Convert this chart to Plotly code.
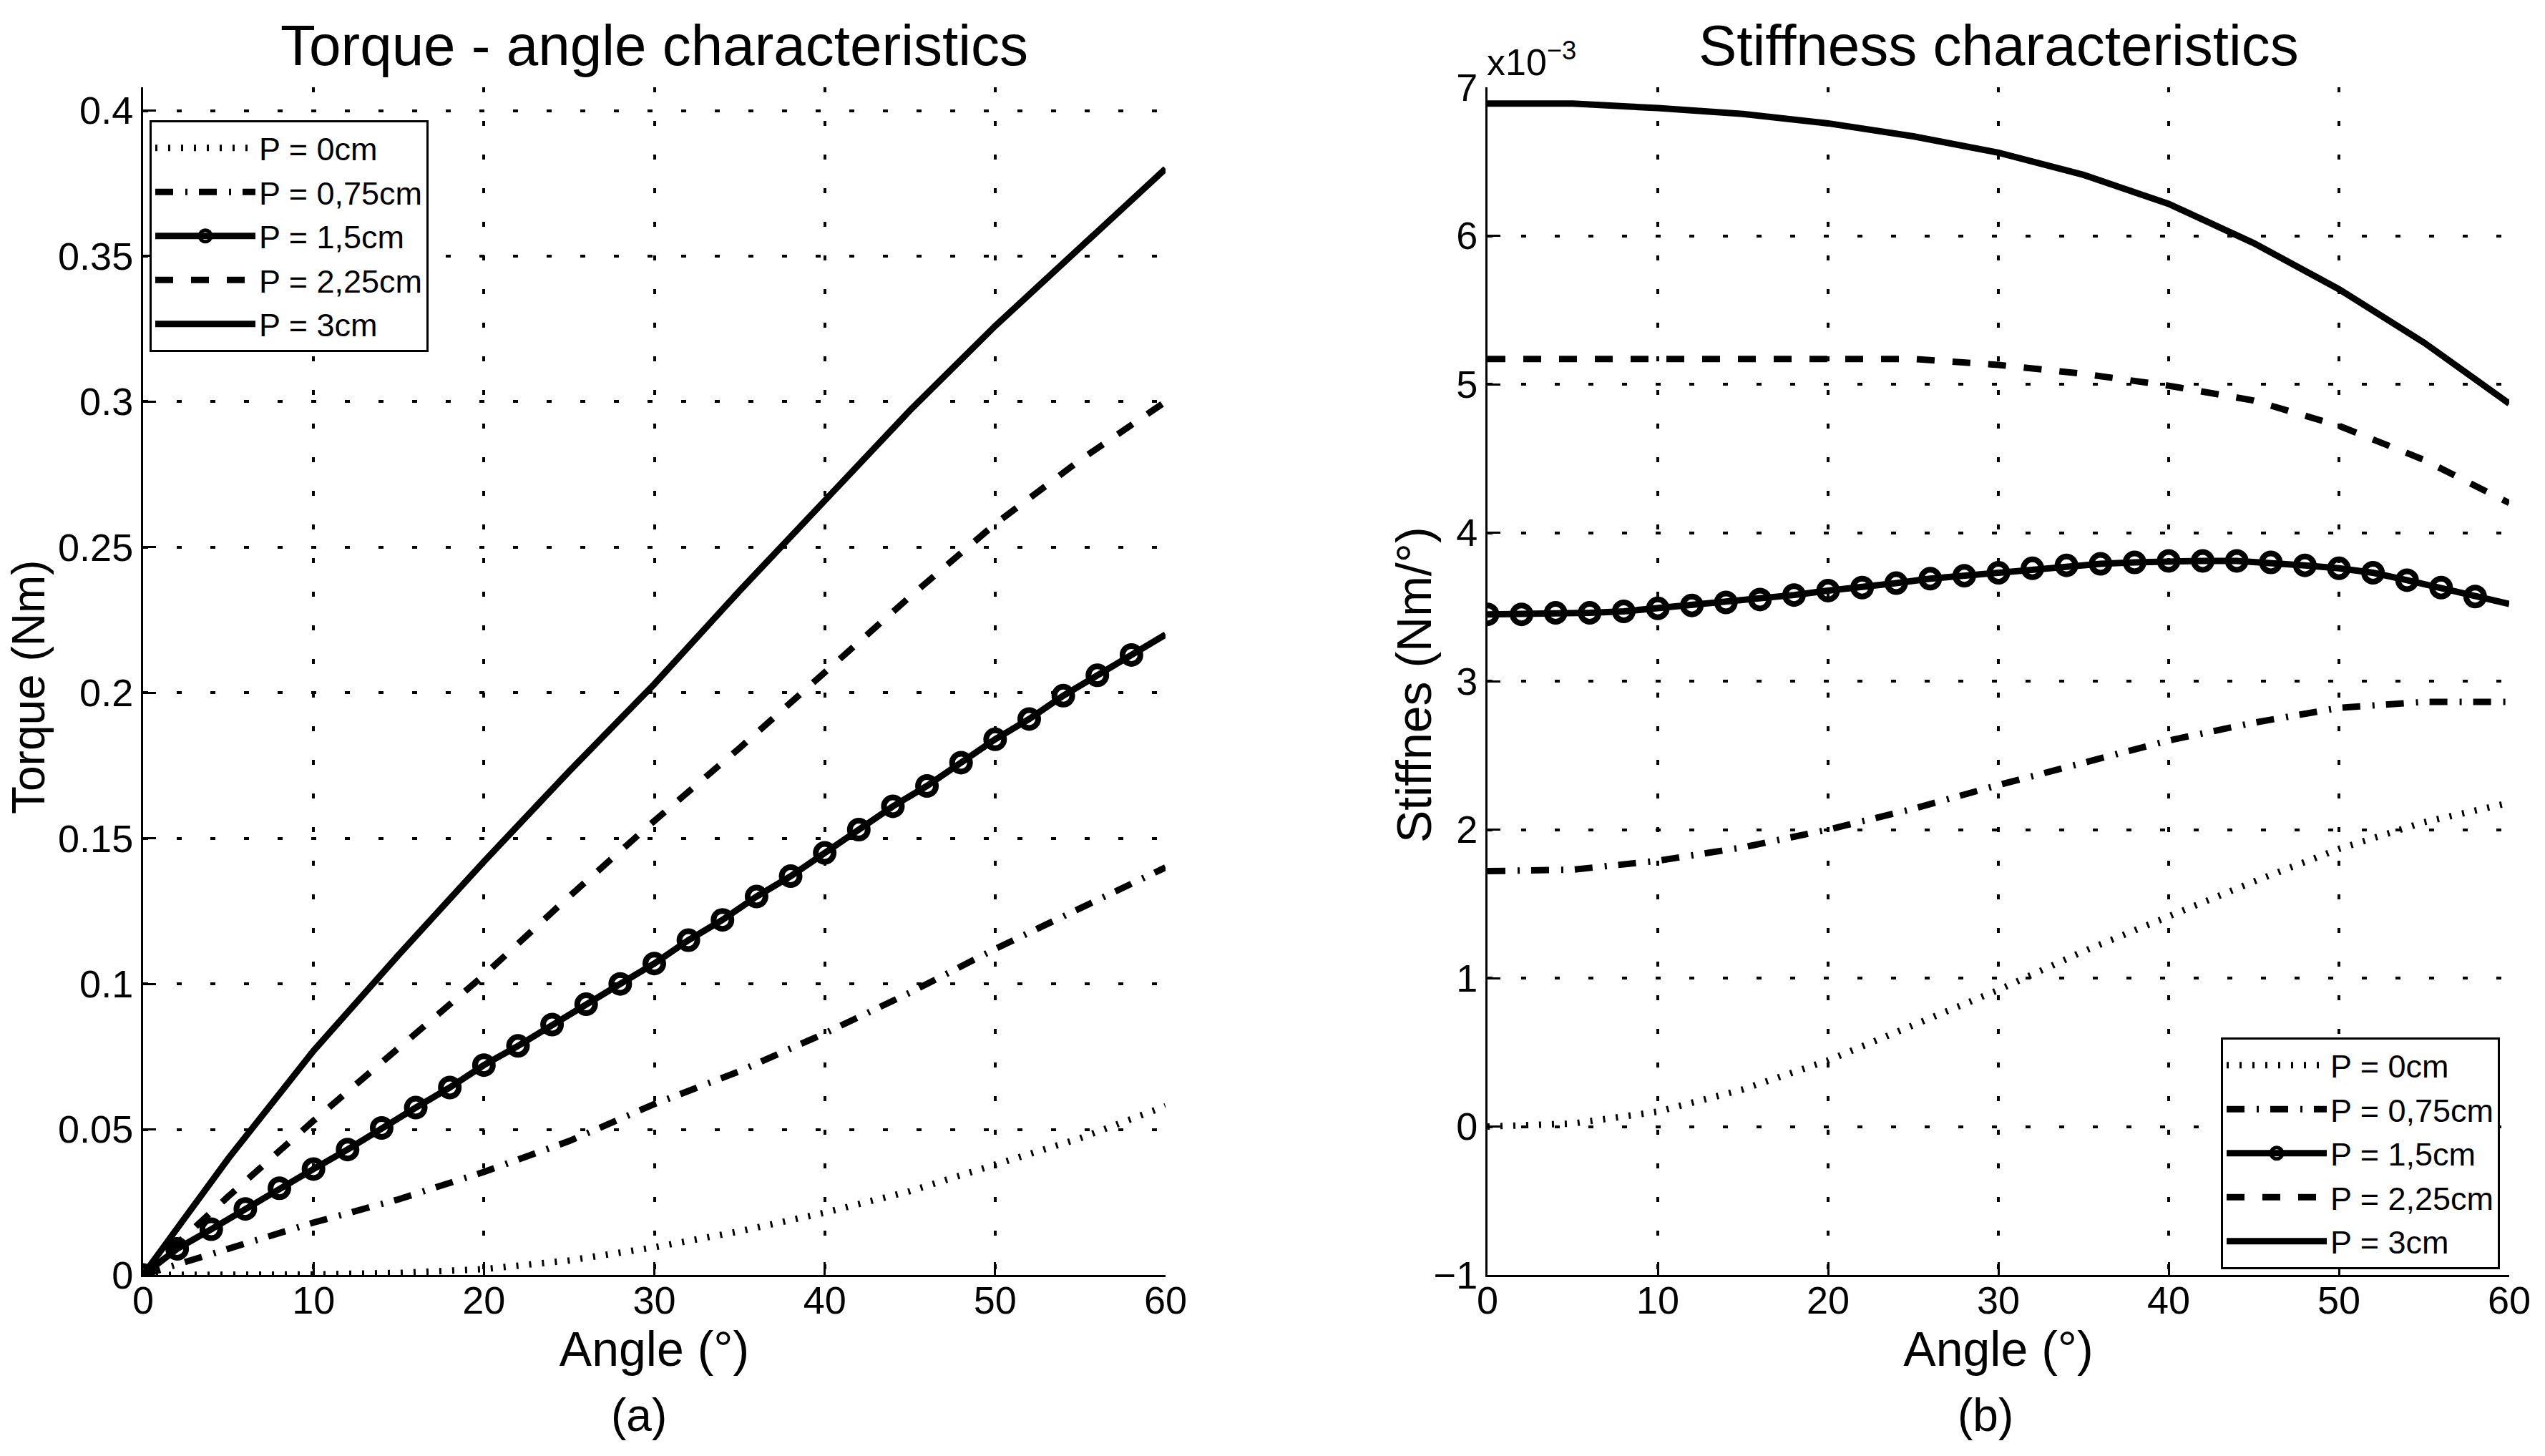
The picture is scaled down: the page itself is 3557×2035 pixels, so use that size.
import plotly.graph_objects as go

# ---------------- data ----------------
angle_coarse = [0, 5, 10, 15, 20, 25, 30, 35, 40, 45, 50, 55, 60]
angle_step2 = [0, 2, 4, 6, 8, 10, 12, 14, 16, 18, 20, 22, 24, 26, 28, 30,
               32, 34, 36, 38, 40, 42, 44, 46, 48, 50, 52, 54, 56, 58, 60]

# Torque (Nm)
torque_P0 = [0, 0.0, 0.0002, 0.0007, 0.002, 0.005, 0.0095, 0.015, 0.0214, 0.0288, 0.0378, 0.047, 0.058]
torque_P075 = [0, 0.009, 0.018, 0.026, 0.0354, 0.046, 0.0587, 0.07, 0.083, 0.097, 0.112, 0.126, 0.14]
torque_P15 = [0, 0.009, 0.0157, 0.0227, 0.0298, 0.0364, 0.0431, 0.0505, 0.0575, 0.0644, 0.0721,
              0.0787, 0.086, 0.093, 0.1, 0.107, 0.115, 0.122, 0.13, 0.137, 0.145, 0.153, 0.161,
              0.168, 0.176, 0.184, 0.191, 0.199, 0.206, 0.213, 0.22]
torque_P225 = [0, 0.027, 0.053, 0.078, 0.103, 0.13, 0.156, 0.181, 0.207, 0.233, 0.258, 0.28, 0.30]
torque_P3 = [0, 0.04, 0.077, 0.11, 0.142, 0.173, 0.203, 0.235, 0.266, 0.297, 0.326, 0.353, 0.38]

# Stiffness (x10^-3 Nm/deg)
stiff_P0 = [0, 0.02, 0.1, 0.25, 0.445, 0.68, 0.92, 1.18, 1.42, 1.65, 1.87, 2.05, 2.18]
stiff_P075 = [1.72, 1.73, 1.79, 1.88, 2.0, 2.14, 2.3, 2.45, 2.6, 2.72, 2.82, 2.86, 2.86]
stiff_P15 = [3.45, 3.45, 3.46, 3.46, 3.47, 3.49, 3.51, 3.53, 3.55, 3.58, 3.61, 3.63, 3.66, 3.69,
             3.71, 3.73, 3.76, 3.78, 3.79, 3.80, 3.81, 3.81, 3.81, 3.80, 3.78, 3.76, 3.73, 3.68,
             3.63, 3.57, 3.52]
stiff_P225 = [5.17, 5.17, 5.17, 5.17, 5.17, 5.17, 5.13, 5.07, 4.99, 4.89, 4.72, 4.49, 4.2]
stiff_P3 = [6.89, 6.89, 6.86, 6.82, 6.757, 6.67, 6.56, 6.41, 6.215, 5.95, 5.64, 5.28, 4.87]

names = ["P = 0cm", "P = 0,75cm", "P = 1,5cm", "P = 2,25cm", "P = 3cm"]
x_ticks = [0, 10, 20, 30, 40, 50, 60]
torque_ticks = [0, 0.05, 0.1, 0.15, 0.2, 0.25, 0.3, 0.35, 0.4]
torque_ticktext = ["0", "0.05", "0.1", "0.15", "0.2", "0.25", "0.3", "0.35", "0.4"]
stiff_ticks = [-1, 0, 1, 2, 3, 4, 5, 6, 7]

# ---------------- styling ----------------
W, H = 3557, 2035
FONT = "Liberation Sans, Arial, sans-serif"
LW = 9
styles = [
    dict(dash="3px,15px", width=LW),
    dict(dash="25px,17px,3px,16px", width=LW),
    dict(dash="solid", width=LW),
    dict(dash="25px,25px", width=LW),
    dict(dash="solid", width=LW),
]

fig = go.Figure()

def add_set(xc, series, xaxis, yaxis, legend):
    for i, (nm, ys) in enumerate(zip(names, series)):
        st = styles[i]
        if i == 2:
            n = len(angle_step2)
            fig.add_trace(go.Scatter(
                x=angle_step2, y=ys, name=nm, mode="lines+markers",
                line=dict(color="black", width=st["width"]),
                marker=dict(symbol="circle-open", size=25,
                            color=["black"] * (n - 1) + ["rgba(0,0,0,0)"],
                            line=dict(width=8)),
                xaxis=xaxis, yaxis=yaxis, legend=legend))
        else:
            fig.add_trace(go.Scatter(
                x=xc, y=ys, name=nm, mode="lines",
                line=dict(color="black", width=st["width"], dash=st["dash"]),
                xaxis=xaxis, yaxis=yaxis, legend=legend))

add_set(angle_coarse, [torque_P0, torque_P075, torque_P15, torque_P225, torque_P3], "x", "y", "legend")
add_set(angle_coarse, [stiff_P0, stiff_P075, stiff_P15, stiff_P225, stiff_P3], "x2", "y2", "legend2")

x_l = [200 / W, 1629 / W]
x_r = [2079 / W, 3507 / W]
y_d = [(H - 1782) / H, (H - 122) / H]

axis_common = dict(
    automargin=False,
    showline=True, linecolor="black", linewidth=3, mirror=False,
    ticks="inside", ticklen=18, tickwidth=3, tickcolor="black",
    showgrid=True, gridcolor="black", gridwidth=4, griddash="7px,40px",
    zeroline=False, tickfont=dict(family=FONT, size=54, color="black"),
    title_font=dict(family=FONT, size=68, color="black"),
)

leg_common = dict(bgcolor="white", bordercolor="black", borderwidth=3,
                  font=dict(family=FONT, size=45, color="black"),
                  itemwidth=140, tracegroupgap=0)

fig.update_layout(
    width=W, height=H, autosize=False,
    margin=dict(l=0, r=0, t=0, b=0, pad=0),
    paper_bgcolor="white", plot_bgcolor="white",
    font=dict(family=FONT, color="black"),
    xaxis=dict(domain=x_l, range=[0, 60], tickvals=x_ticks, anchor="y", ticklabelstandoff=-14,
               title=dict(text="Angle (°)", standoff=0), **axis_common),
    yaxis=dict(domain=y_d, range=[0, 0.408], tickvals=torque_ticks, ticktext=torque_ticktext,
               anchor="x", **axis_common),
    xaxis2=dict(domain=x_r, range=[0, 60], tickvals=x_ticks, anchor="y2", ticklabelstandoff=-14,
                title=dict(text="Angle (°)", standoff=0), **axis_common),
    yaxis2=dict(domain=y_d, range=[-1, 7], tickvals=stiff_ticks, anchor="x2", **axis_common),
    legend=dict(x=209 / W, y=1 - 168 / H, xanchor="left", yanchor="top", **leg_common),
    legend2=dict(x=3494 / W, y=1 - 1774 / H, xanchor="right", yanchor="bottom", **leg_common),
    showlegend=True,
)

# y-axis titles
fig.add_annotation(text="Torque (Nm)", x=2 / W, y=1 - 960 / H, xref="paper", yref="paper",
                   xanchor="left", yanchor="middle", textangle=-90, showarrow=False,
                   font=dict(family=FONT, size=64, color="black"))
fig.add_annotation(text="Stiffnes (Nm/°)", x=1976 / W, y=1 - 957 / H, xref="paper", yref="paper",
                   xanchor="center", yanchor="middle", textangle=-90, showarrow=False,
                   font=dict(family=FONT, size=68, color="black"))

# titles and captions
fig.add_annotation(text="Torque - angle characteristics", x=(x_l[0] + x_l[1]) / 2, y=1 - 110 / H,
                   xref="paper", yref="paper", xanchor="center", yanchor="bottom", showarrow=False,
                   font=dict(family=FONT, size=80, color="black"))
fig.add_annotation(text="Stiffness characteristics", x=(x_r[0] + x_r[1]) / 2, y=1 - 110 / H,
                   xref="paper", yref="paper", xanchor="center", yanchor="bottom", showarrow=False,
                   font=dict(family=FONT, size=80, color="black"))
fig.add_annotation(text="x10<sup>−3</sup>", x=2076 / W, y=1 - 118 / H,
                   xref="paper", yref="paper", xanchor="left", yanchor="bottom", showarrow=False,
                   font=dict(family=FONT, size=52, color="black"))
fig.add_annotation(text="(a)", x=893 / W, y=1 - 1978 / H, xref="paper", yref="paper",
                   xanchor="center", yanchor="middle", showarrow=False,
                   font=dict(family=FONT, size=64, color="black"))
fig.add_annotation(text="(b)", x=2775 / W, y=1 - 1978 / H, xref="paper", yref="paper",
                   xanchor="center", yanchor="middle", showarrow=False,
                   font=dict(family=FONT, size=64, color="black"))

fig.write_html("out.html", config={"displayModeBar": False},
               post_script="document.body.style.margin='0';document.body.style.overflow='hidden';")
